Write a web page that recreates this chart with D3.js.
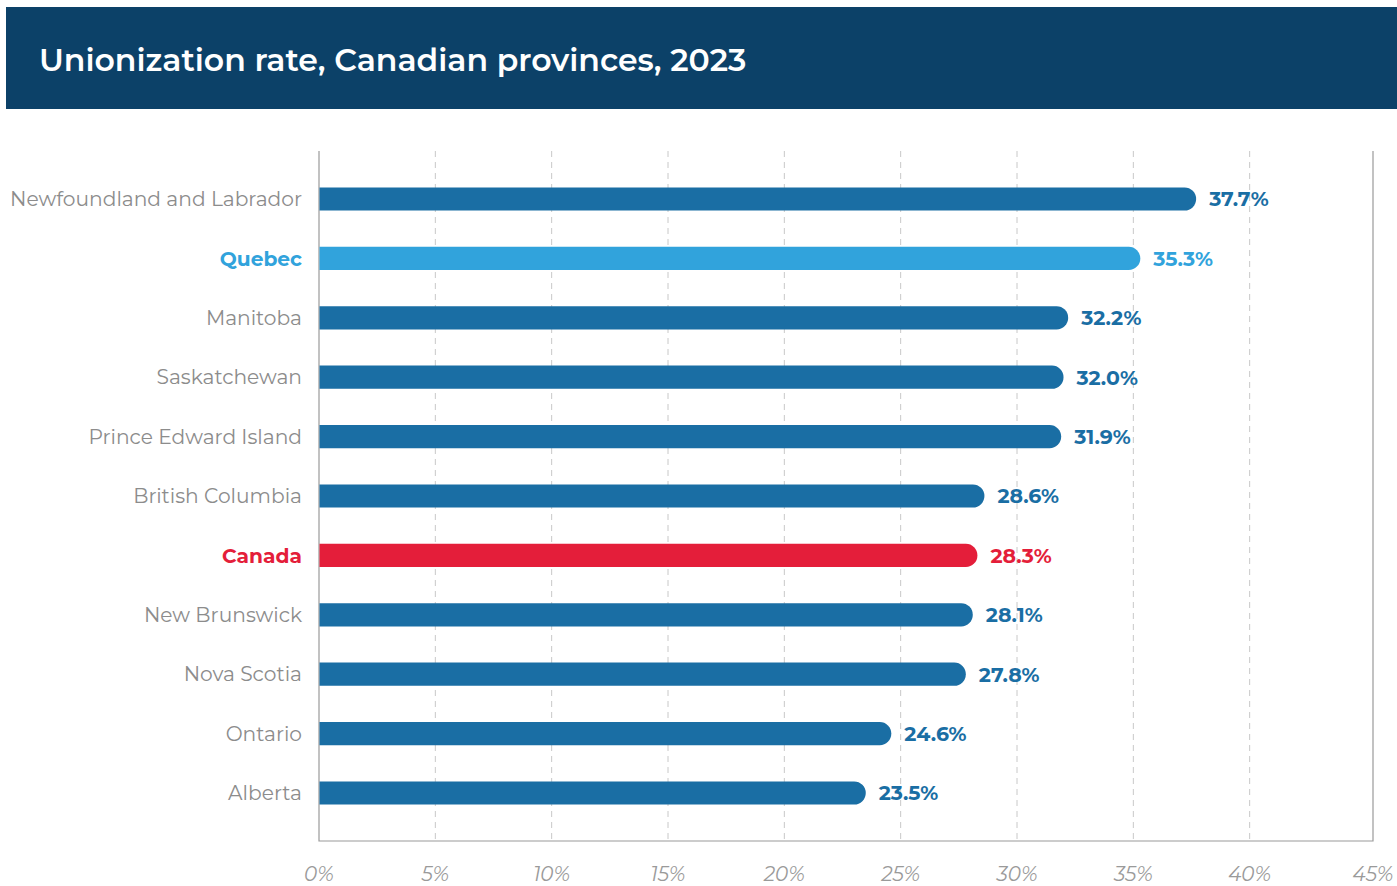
<!DOCTYPE html>
<html>
<head>
<meta charset="utf-8">
<script src="https://cdn.jsdelivr.net/npm/d3@7"></script>
<style>
  body { margin: 0; background: #fff; }
  svg { display: block; }
</style>
</head>
<body>
<svg id="chart" width="1397" height="886"></svg>
<script>
// Unionization rate by province, 2023 (percent)
const provinces = [
  "Newfoundland and Labrador", "Quebec", "Manitoba", "Saskatchewan",
  "Prince Edward Island", "British Columbia", "Canada", "New Brunswick",
  "Nova Scotia", "Ontario", "Alberta"
];
const rates = [37.7, 35.3, 32.2, 32.0, 31.9, 28.6, 28.3, 28.1, 27.8, 24.6, 23.5];
const xTicks = [0, 5, 10, 15, 20, 25, 30, 35, 40, 45];
const highlights = { "Quebec": "#31a3dc", "Canada": "#e41e3a" };

const baseColor = "#1a6ea4";
const fontFamily = "'Montserrat', 'Open Sans', 'Noto Sans', sans-serif";

const svg = d3.select("#chart");

// Title banner
svg.append("rect")
  .attr("x", 6).attr("y", 7).attr("width", 1391).attr("height", 102)
  .attr("fill", "#0c4168");
svg.append("text")
  .attr("x", 39).attr("y", 71)
  .attr("fill", "#ffffff")
  .attr("font-family", fontFamily)
  .attr("font-size", 31.5)
  .attr("font-weight", 600)
  .text("Unionization rate, Canadian provinces, 2023");

const plotLeft = 319, plotRight = 1373, plotTop = 151, plotBottom = 841;

const x = d3.scaleLinear().domain([0, 45]).range([plotLeft, 1366]);
const y = d3.scaleBand().domain(provinces).range([169.3, 822.7]).paddingInner(0.61).paddingOuter(0.305);

const data = provinces.map((p, i) => ({ name: p, value: rates[i] }));
const colorOf = name => highlights[name] || baseColor;

// Dashed vertical gridlines
svg.append("g")
  .selectAll("line")
  .data(xTicks.filter(t => t > 0 && t < 45))
  .join("line")
  .attr("x1", d => x(d)).attr("x2", d => x(d))
  .attr("y1", plotTop).attr("y2", plotBottom)
  .attr("stroke", "#c8c8c8")
  .attr("stroke-width", 1)
  .attr("stroke-dasharray", "6,5");

// Plot frame: left, bottom and right edges
svg.append("path")
  .attr("d", `M${plotLeft},${plotTop}V${plotBottom}H${plotRight}V${plotTop}`)
  .attr("fill", "none")
  .attr("stroke", "#9a9a9a")
  .attr("stroke-width", 1.2);

// Bars with a rounded right end
const bh = y.bandwidth();
const r = bh / 2;
svg.append("g")
  .selectAll("path")
  .data(data)
  .join("path")
  .attr("d", d => {
    const x0 = x(0) + 0.5, x1 = x(d.value), y0 = y(d.name);
    return `M${x0},${y0}H${x1 - r}A${r},${r} 0 0 1 ${x1 - r},${y0 + bh}H${x0}Z`;
  })
  .attr("fill", d => colorOf(d.name));

// Value labels
svg.append("g")
  .selectAll("text")
  .data(data)
  .join("text")
  .attr("x", d => x(d.value) + 13)
  .attr("y", d => y(d.name) + bh / 2)
  .attr("dy", "0.36em")
  .attr("font-family", fontFamily)
  .attr("font-size", 20.5)
  .attr("font-weight", 700)
  .attr("fill", d => colorOf(d.name))
  .text(d => d.value.toFixed(1) + "%");

// Category labels
svg.append("g")
  .selectAll("text")
  .data(data)
  .join("text")
  .attr("x", 302)
  .attr("y", d => y(d.name) + bh / 2)
  .attr("dy", "0.36em")
  .attr("text-anchor", "end")
  .attr("font-family", fontFamily)
  .attr("font-size", 20.2)
  .attr("font-weight", d => highlights[d.name] ? 700 : 400)
  .attr("fill", d => highlights[d.name] || "#8c8c8c")
  .text(d => d.name);

// X-axis tick labels
svg.append("g")
  .selectAll("text")
  .data(xTicks)
  .join("text")
  .attr("x", d => d === 45 ? plotRight : x(d))
  .attr("y", 881)
  .attr("text-anchor", "middle")
  .attr("font-family", fontFamily)
  .attr("font-size", 20)
  .attr("font-style", "italic")
  .attr("fill", "#9a9a9a")
  .text(d => d + "%");
</script>
</body>
</html>
